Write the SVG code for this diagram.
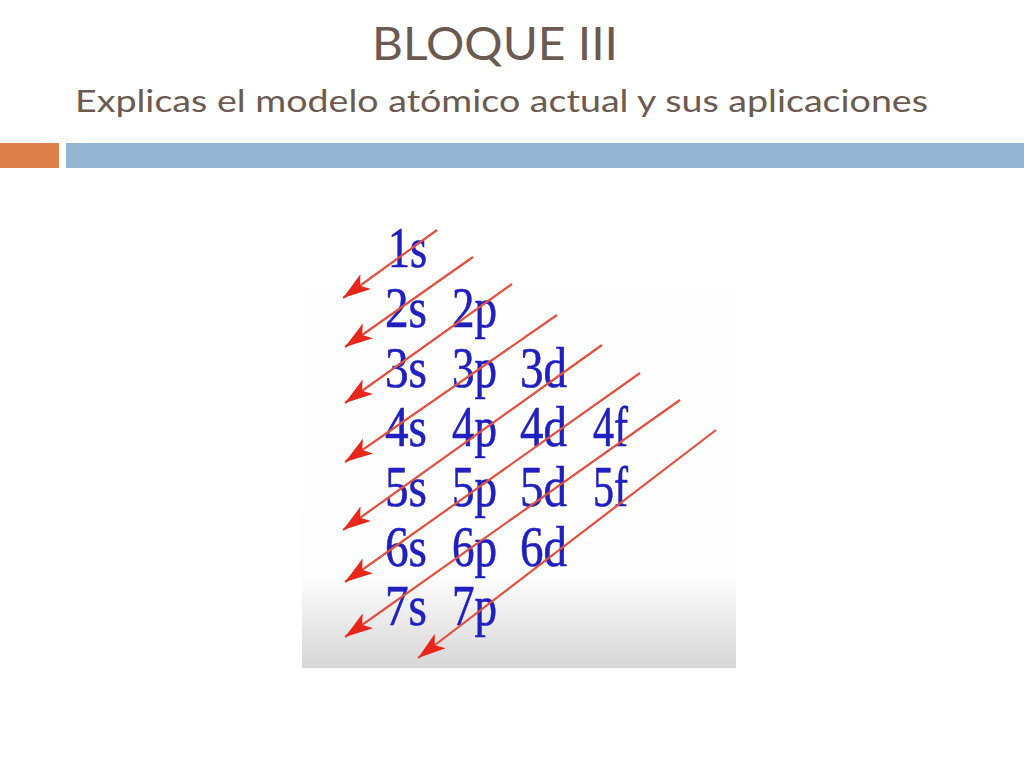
<svg xmlns="http://www.w3.org/2000/svg" width="1024" height="768" viewBox="0 0 1024 768">
  <style>
    .title { font-family: Lato, "Open Sans", "Liberation Sans", sans-serif; fill: #6b5a52; }
    .orb { font-family: "Liberation Serif", "Times New Roman", serif; font-size: 56px; fill: #2020c0; stroke: #2020c0; stroke-width: 0.6; }
    .arr { stroke: #e4503e; stroke-width: 2.2; fill: none; marker-end: url(#ah); }
  </style>
  <defs>
    <linearGradient id="bg" x1="0" y1="0" x2="0" y2="1">
      <stop offset="0" stop-color="#ffffff"/>
      <stop offset="0.8" stop-color="#fdfdfd"/>
      <stop offset="1" stop-color="#d6d6d6"/>
    </linearGradient>
    <marker id="ah" viewBox="0 0 28 18" refX="28" refY="9" markerWidth="28" markerHeight="18" markerUnits="userSpaceOnUse" orient="auto">
      <path d="M0,0 L28,9 L0,18 L7,9 z" fill="#e8261a"/>
    </marker>
  </defs>
  <rect width="1024" height="768" fill="#ffffff"/>

  <g id="header">
    <text class="title" x="495" y="60" font-size="46" text-anchor="middle" textLength="246" lengthAdjust="spacingAndGlyphs">BLOQUE III</text>
    <text class="title" x="75" y="112" font-size="31" textLength="853" lengthAdjust="spacingAndGlyphs">Explicas el modelo atómico actual y sus aplicaciones</text>
    <rect x="0" y="143" width="59" height="25" fill="#dd8047"/>
    <rect x="66" y="143" width="958" height="25" fill="#94b6d2"/>
  </g>

  <g id="picture">
    <rect x="302" y="210" width="434" height="458" fill="url(#bg)"/>
  </g>

  <g id="orbitals">
    <text class="orb" x="388" y="267" textLength="39" lengthAdjust="spacingAndGlyphs">1s</text>
    <text class="orb" x="385" y="327" textLength="42" lengthAdjust="spacingAndGlyphs">2s</text>
    <text class="orb" x="452" y="327" textLength="45" lengthAdjust="spacingAndGlyphs">2p</text>
    <text class="orb" x="385" y="387" textLength="42" lengthAdjust="spacingAndGlyphs">3s</text>
    <text class="orb" x="452" y="387" textLength="45" lengthAdjust="spacingAndGlyphs">3p</text>
    <text class="orb" x="520" y="387" textLength="47" lengthAdjust="spacingAndGlyphs">3d</text>
    <text class="orb" x="385" y="446" textLength="42" lengthAdjust="spacingAndGlyphs">4s</text>
    <text class="orb" x="452" y="446" textLength="45" lengthAdjust="spacingAndGlyphs">4p</text>
    <text class="orb" x="520" y="446" textLength="47" lengthAdjust="spacingAndGlyphs">4d</text>
    <text class="orb" x="593" y="446" textLength="35" lengthAdjust="spacingAndGlyphs">4f</text>
    <text class="orb" x="385" y="506" textLength="42" lengthAdjust="spacingAndGlyphs">5s</text>
    <text class="orb" x="452" y="506" textLength="45" lengthAdjust="spacingAndGlyphs">5p</text>
    <text class="orb" x="520" y="506" textLength="47" lengthAdjust="spacingAndGlyphs">5d</text>
    <text class="orb" x="593" y="506" textLength="35" lengthAdjust="spacingAndGlyphs">5f</text>
    <text class="orb" x="385" y="566" textLength="42" lengthAdjust="spacingAndGlyphs">6s</text>
    <text class="orb" x="452" y="566" textLength="45" lengthAdjust="spacingAndGlyphs">6p</text>
    <text class="orb" x="520" y="566" textLength="47" lengthAdjust="spacingAndGlyphs">6d</text>
    <text class="orb" x="385" y="625" textLength="42" lengthAdjust="spacingAndGlyphs">7s</text>
    <text class="orb" x="452" y="625" textLength="45" lengthAdjust="spacingAndGlyphs">7p</text>
  </g>

  <g id="connectors">
    <line class="arr" x1="437" y1="230" x2="343" y2="298"/>
    <line class="arr" x1="473" y1="257" x2="345" y2="347"/>
    <line class="arr" x1="512" y1="284" x2="345" y2="403"/>
    <line class="arr" x1="557" y1="315" x2="345" y2="462"/>
    <line class="arr" x1="602" y1="345" x2="343" y2="530"/>
    <line class="arr" x1="640" y1="373" x2="345" y2="582"/>
    <line class="arr" x1="680" y1="400" x2="345" y2="637"/>
    <line class="arr" x1="716" y1="430" x2="418" y2="658"/>
  </g>
</svg>
